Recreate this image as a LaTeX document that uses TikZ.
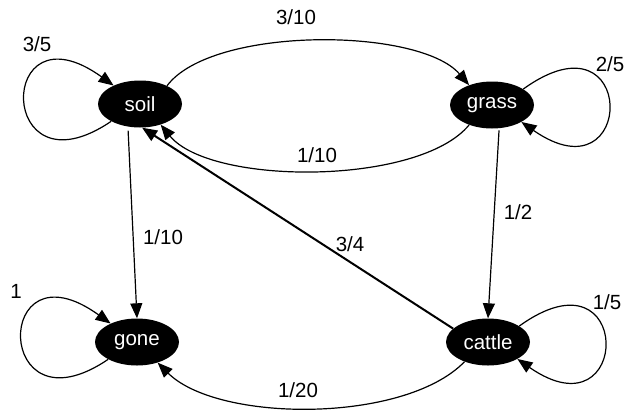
\documentclass[tikz,border=0pt]{standalone}
\usepackage{fontspec}
\setmainfont{Liberation Sans}
\usetikzlibrary{arrows.meta,shapes.geometric}

\tikzset{
  state/.style={ellipse, fill=black, text=white, minimum width=84pt,
    minimum height=47pt, inner sep=0pt, font=\fontsize{20.5}{24}\selectfont},
  prob/.style={inner sep=0pt, font=\fontsize{20.5}{24}\selectfont},
  trans/.style={line width=1.2pt, -{Triangle[length=15pt,width=12pt]}},
  heavy/.style={trans, line width=2pt}
}

\begin{document}
\begin{tikzpicture}[x=1pt,y=-1pt]
  \useasboundingbox (0,0) rectangle (626,413);

  % states
  \node[state] (soil)   at (140,104) {soil};
  \node[state] (grass)  at (492,105) {grass};
  \node[state] (gone)   at (137,342) {gone};
  \node[state] (cattle) at (488,342) {cattle};

  % self-loops
  \draw[trans] (soil.211) .. controls +(-115,78) and +(-118,-85) .. (soil.145);
  \draw[trans] (grass.27) .. controls +(115,-83) and +(115,80) .. (grass.330);
  \draw[trans] (gone.211) .. controls +(-115,78) and +(-118,-85) .. (gone.145);
  \draw[trans] (cattle.27) .. controls +(115,-83) and +(115,80) .. (cattle.330);

  % transitions between states
  \draw[trans] (soil.34) .. controls +(45,-60) and +(-50,-58) .. (grass.139);
  \draw[trans] (grass.221) .. controls +(-50,61) and +(50,61) .. (soil.315);
  \draw[trans, shorten <=4pt] (soil.242) -- (gone.north);
  \draw[trans, shorten <=2pt] (grass.287) -- (cattle.north);
  \draw[heavy] (cattle.159) -- (soil.275);
  \draw[trans] (cattle.220) .. controls +(-60,62) and +(60,60) .. (gone.315);

  % transition probabilities
  \node[prob] (p-ss) at (37,44)   {3/5};
  \node[prob] (p-sg) at (296,17)  {3/10};
  \node[prob] (p-gg) at (610,64)  {2/5};
  \node[prob] (p-gs) at (317,155) {1/10};
  \node[prob] (p-so) at (163,237) {1/10};
  \node[prob] (p-cs) at (350,244) {3/4};
  \node[prob] (p-gc) at (518,212) {1/2};
  \node[prob] (p-oo) at (16,291)  {1};
  \node[prob] (p-cc) at (607,302) {1/5};
  \node[prob] (p-co) at (298,390) {1/20};
\end{tikzpicture}
\end{document}
